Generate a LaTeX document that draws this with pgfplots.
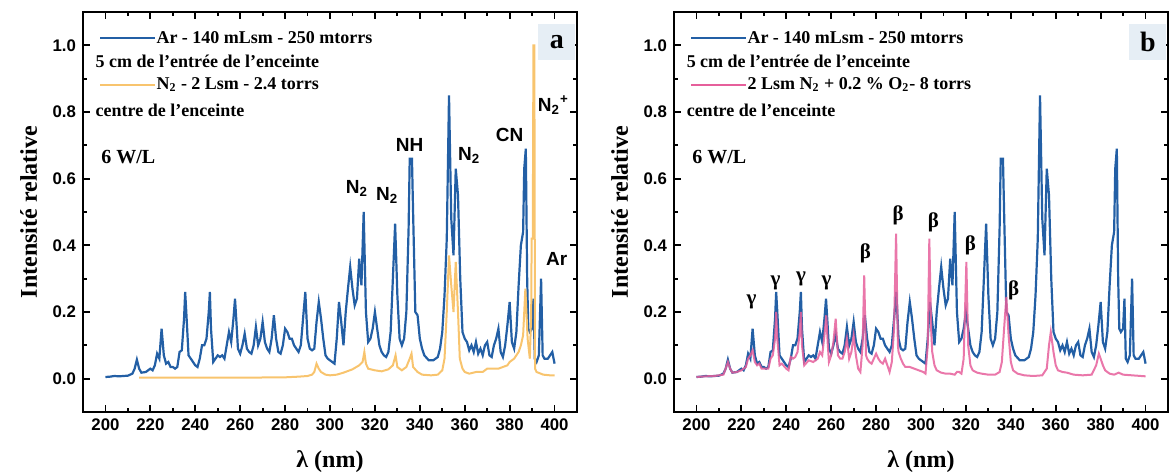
\documentclass[border=0pt]{standalone}
\usepackage{fontspec}
\setmainfont{Liberation Serif}
\newfontfamily\sansf{Liberation Sans}
\usepackage{pgfplots}
\pgfplotsset{compat=1.18}
\usepackage{pgfplotstable}

\definecolor{specblue}{RGB}{35,95,165}
\definecolor{specorange}{RGB}{248,196,110}
\definecolor{specpink}{RGB}{230,95,155}
\definecolor{boxbg}{RGB}{230,238,245}

\pgfplotstableread{
x y
200 0.005
202 0.006
204 0.008
206 0.007
208 0.008
210 0.009
212 0.015
213 0.03
214 0.057
215 0.03
216 0.018
218 0.02
220 0.03
221 0.025
222 0.04
223 0.075
224 0.06
225 0.15
226 0.07
227 0.045
228 0.05
229 0.035
230 0.035
231 0.03
232 0.035
233 0.08
234 0.085
235 0.18
235.5 0.26
236 0.2
237 0.07
238 0.06
239 0.05
240 0.04
241 0.035
242 0.06
243 0.1
244 0.1
245 0.12
246 0.2
246.5 0.26
247 0.15
248 0.05
249 0.06
250 0.07
251 0.065
252 0.07
253 0.06
254 0.1
255 0.14
256 0.11
257 0.18
257.7 0.24
258.5 0.15
259 0.09
260 0.075
261 0.1
262 0.135
263 0.09
264 0.08
265 0.075
266 0.1
267 0.155
268 0.1
269 0.12
270 0.17
271 0.11
272 0.09
273 0.08
274 0.12
275 0.19
276 0.12
277 0.08
278 0.075
279 0.1
280 0.15
281 0.14
282 0.12
283 0.12
284 0.1
285 0.09
286 0.08
287 0.1
288 0.18
289 0.26
290 0.12
291 0.09
292 0.085
293 0.09
294 0.17
295 0.23
296 0.18
297 0.12
298 0.07
299 0.06
300 0.055
301 0.05
302 0.045
303 0.12
304 0.23
305 0.17
306 0.1
307 0.2
308 0.27
309 0.335
310 0.27
311 0.22
312 0.24
313 0.36
314 0.28
315 0.5
316 0.2
317 0.11
318 0.12
319 0.15
320 0.2
321 0.15
322 0.1
323 0.08
324 0.07
325 0.065
326 0.08
327 0.14
328 0.3
329 0.465
330 0.25
331 0.12
332 0.1
333 0.12
334 0.2
335 0.45
335.5 0.66
336.5 0.66
337 0.5
338 0.2
339 0.19
340 0.12
341 0.09
342 0.07
344 0.055
346 0.055
348 0.065
349 0.09
350 0.14
351 0.25
352 0.42
353 0.85
354 0.48
355 0.37
356 0.63
357 0.55
358 0.3
359 0.14
360 0.12
361 0.11
362 0.085
363 0.1
364 0.08
365 0.11
366 0.075
367 0.09
368 0.07
369 0.1
370 0.11
371 0.07
372 0.065
373 0.1
374 0.12
375 0.15
376 0.08
377 0.065
378 0.1
379 0.16
380 0.23
381 0.11
382 0.09
383 0.14
384 0.28
385 0.4
386 0.44
386.5 0.63
387.2 0.69
387.8 0.3
388.3 0.15
389 0.14
390 0.15
390.6 0.24
391.2 0.06
392 0.05
393 0.07
394 0.3
394.7 0.07
395.5 0.06
397 0.06
398 0.07
399 0.08
400 0.045
}\bluedata

\pgfplotstableread{
x y
215 0.003
220 0.003
240 0.003
260 0.003
280 0.004
286 0.006
290 0.008
292 0.012
293 0.02
294 0.045
295 0.03
296 0.02
298 0.012
300 0.01
303 0.012
306 0.018
310 0.028
313 0.04
314.5 0.05
315.3 0.08
316 0.045
317 0.03
320 0.025
323 0.022
326 0.028
328 0.04
329.2 0.07
330 0.035
332 0.025
334 0.035
335.5 0.06
336.3 0.075
337 0.035
339 0.02
341 0.012
345 0.01
348 0.012
350 0.025
351 0.06
352 0.2
353 0.37
354 0.28
355 0.2
356 0.35
357 0.2
357.8 0.06
359 0.03
360 0.02
362 0.015
365 0.02
368 0.02
370 0.03
373 0.03
375 0.03
377 0.035
379 0.04
380 0.05
382 0.06
384 0.08
385 0.1
386 0.13
387 0.27
388 0.12
389 0.06
389.6 0.2
389.8 0.42
390.3 0.42
390.6 1.0
391 1.0
391.3 0.03
392 0.02
395 0.012
398 0.01
400 0.01
}\orangedata

\pgfplotstableread{
x y
200 0.005
204 0.007
208 0.008
212 0.012
213 0.03
214 0.05
215 0.03
216 0.018
218 0.02
220 0.025
222 0.035
223 0.06
224 0.07
225 0.085
226 0.05
227 0.04
228 0.045
229 0.03
231 0.03
232 0.03
233 0.06
234 0.07
235 0.12
235.5 0.2
236 0.12
237 0.04
238 0.045
240 0.03
241 0.025
242 0.065
243 0.06
244 0.065
245 0.08
246 0.14
246.5 0.2
247 0.1
248 0.04
250 0.055
252 0.05
254 0.06
255 0.08
256 0.07
257 0.13
257.8 0.19
258.5 0.1
259 0.05
260 0.07
261 0.11
262 0.18
263 0.07
264 0.06
265 0.06
266 0.08
267 0.12
268 0.06
269 0.08
270 0.13
271 0.07
272 0.03
273 0.02
274 0.1
274.7 0.31
275.5 0.07
276 0.06
277 0.05
278 0.045
279 0.06
280 0.075
281 0.06
282 0.05
283 0.045
284 0.06
285 0.04
286 0.02
287 0.05
288 0.15
288.9 0.435
289.7 0.1
290 0.08
291 0.06
292 0.045
293 0.035
295 0.035
297 0.03
299 0.025
301 0.02
302 0.015
303 0.1
303.7 0.42
304.5 0.15
305 0.08
306 0.04
307 0.025
309 0.018
311 0.015
313 0.015
315 0.012
316 0.02
317 0.02
318 0.015
319 0.06
320.2 0.35
321 0.1
322 0.04
323 0.025
325 0.018
327 0.015
330 0.012
333 0.012
335 0.02
336 0.05
337 0.15
338 0.245
339 0.13
340 0.05
341 0.025
343 0.015
346 0.01
350 0.008
354 0.01
356 0.03
357 0.1
357.8 0.14
359 0.08
360 0.04
361 0.025
363 0.02
365 0.018
368 0.012
372 0.01
376 0.012
378 0.04
379.2 0.075
380 0.06
381 0.04
382 0.025
384 0.015
386 0.012
388 0.018
390 0.012
394 0.01
398 0.008
400 0.007
}\pinkdata

\pgfplotsset{
 myaxis/.style={
  scale only axis, width=247pt, height=200pt,
  xmin=190, xmax=410, ymin=-0.1, ymax=1.1,
  clip=false,
  xtick={200,220,240,260,280,300,320,340,360,380,400},
  ytick={0,0.2,0.4,0.6,0.8,1.0},
  minor x tick num=1, minor y tick num=1,
  tick align=inside, major tick length=3.5pt, minor tick length=2pt,
  axis line style={line width=1.2pt},
  every tick/.style={line width=0.9pt, black},
  tick label style={font=\sansf\bfseries\fontsize{8.4}{10}\selectfont},
  /pgf/number format/assume math mode=true,
  yticklabel style={/pgf/number format/.cd, fixed, fixed zerofill, precision=1},
  xticklabel style={/pgf/number format/1000 sep={}},
  xlabel={λ (nm)},
  ylabel={Intensité relative},
  xlabel style={font=\bfseries\fontsize{12}{14}\selectfont, at={(axis description cs:0.5,-0.125)}, anchor=center},
  ylabel style={font=\bfseries\fontsize{12}{14}\selectfont, at={(axis description cs:-0.11,0.5)}, anchor=center},
 },
}
\tikzset{
 legfont/.style={font=\bfseries\fontsize{9}{11}\selectfont, inner sep=0pt, anchor=west},
 annot/.style={font=\sansf\bfseries\fontsize{9.5}{11}\selectfont, inner sep=0pt},
 greek/.style={font=\bfseries\fontsize{10.5}{12}\selectfont, inner sep=0pt},
}

\begin{document}
\begin{tikzpicture}
\useasboundingbox (-41.5pt,-31pt) rectangle (543.5pt,206pt);
% ---------- panel a ----------
\begin{axis}[myaxis, at={(0pt,0pt)}, anchor=south west]
\fill[boxbg] (axis cs:392.5,0.955) rectangle (axis cs:409,1.065);
\addplot[specblue, line width=1.1pt] table {\bluedata};
\addplot[specorange, line width=1pt] table {\orangedata};
\node[font=\bfseries\fontsize{14}{14}\selectfont, inner sep=0pt] at (axis cs:401,1.01) {a};
\draw[specblue, line width=1pt] (rel axis cs:0.035,0.935) -- (rel axis cs:0.145,0.935);
\node[legfont] at (rel axis cs:0.148,0.935) {Ar - 140 mLsm - 250 mtorrs};
\node[legfont] at (rel axis cs:0.025,0.8775) {5 cm de l'entrée de l'enceinte};
\draw[specorange, line width=1pt] (rel axis cs:0.035,0.8175) -- (rel axis cs:0.145,0.8175);
\node[legfont] at (rel axis cs:0.148,0.8175) {N\textsubscript{2} - 2 Lsm - 2.4 torrs};
\node[legfont] at (rel axis cs:0.025,0.755) {centre de l'enceinte};
\node[font=\bfseries\fontsize{10}{12}\selectfont, inner sep=0pt, anchor=west] at (axis cs:198,0.665) {6 W/L};
\node[annot] at (axis cs:312,0.57) {N\textsubscript{2}};
\node[annot] at (axis cs:325.5,0.55) {N\textsubscript{2}};
\node[annot] at (axis cs:335.5,0.70) {NH};
\node[annot] at (axis cs:362,0.67) {N\textsubscript{2}};
\node[annot] at (axis cs:380,0.73) {CN};
\node[annot] at (axis cs:399.5,0.82) {N\textsubscript{2}\textsuperscript{+}};
\node[annot] at (axis cs:401,0.36) {Ar};
\end{axis}
% ---------- panel b ----------
\begin{axis}[myaxis, at={(295.5pt,0pt)}, anchor=south west]
\fill[boxbg] (axis cs:392.5,0.955) rectangle (axis cs:409,1.065);
\addplot[specblue, line width=1.1pt] table {\bluedata};
\addplot[specpink, line width=1pt, opacity=0.85] table {\pinkdata};
\node[font=\bfseries\fontsize{14}{14}\selectfont, inner sep=0pt] at (axis cs:401,1.01) {b};
\draw[specblue, line width=1pt] (rel axis cs:0.035,0.935) -- (rel axis cs:0.145,0.935);
\node[legfont] at (rel axis cs:0.148,0.935) {Ar - 140 mLsm - 250 mtorrs};
\node[legfont] at (rel axis cs:0.025,0.8775) {5 cm de l'entrée de l'enceinte};
\draw[specpink, line width=1pt] (rel axis cs:0.035,0.8175) -- (rel axis cs:0.145,0.8175);
\node[legfont] at (rel axis cs:0.148,0.8175) {2 Lsm N\textsubscript{2} + 0.2 \% O\textsubscript{2}- 8 torrs};
\node[legfont] at (rel axis cs:0.025,0.755) {centre de l'enceinte};
\node[font=\bfseries\fontsize{10}{12}\selectfont, inner sep=0pt, anchor=west] at (axis cs:198,0.665) {6 W/L};
\node[greek] at (axis cs:224.5,0.23) {γ};
\node[greek] at (axis cs:235.2,0.286) {γ};
\node[greek] at (axis cs:246.6,0.30) {γ};
\node[greek] at (axis cs:257.9,0.286) {γ};
\node[greek] at (axis cs:275.2,0.376) {β};
\node[greek] at (axis cs:289.8,0.49) {β};
\node[greek] at (axis cs:305.5,0.47) {β};
\node[greek] at (axis cs:322,0.40) {β};
\node[greek] at (axis cs:341.3,0.266) {β};
\end{axis}
\end{tikzpicture}
\end{document}
